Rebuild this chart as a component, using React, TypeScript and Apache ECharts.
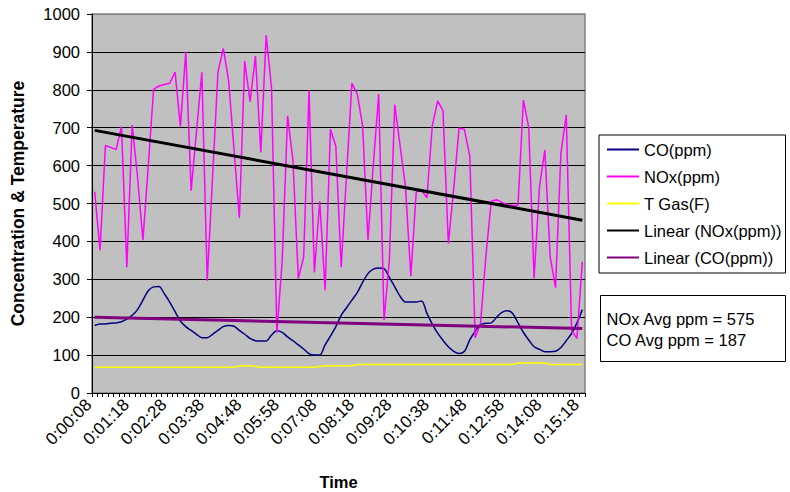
import React, { useEffect, useRef } from "react";
import * as echarts from "echarts";

const categories = [
  "0:00:08","0:00:18","0:00:28","0:00:38","0:00:48","0:00:58",
  "0:01:08","0:01:18","0:01:28","0:01:38","0:01:48","0:01:58",
  "0:02:08","0:02:18","0:02:28","0:02:38","0:02:48","0:02:58",
  "0:03:08","0:03:18","0:03:28","0:03:38","0:03:48","0:03:58",
  "0:04:08","0:04:18","0:04:28","0:04:38","0:04:48","0:04:58",
  "0:05:08","0:05:18","0:05:28","0:05:38","0:05:48","0:05:58",
  "0:06:08","0:06:18","0:06:28","0:06:38","0:06:48","0:06:58",
  "0:07:08","0:07:18","0:07:28","0:07:38","0:07:48","0:07:58",
  "0:08:08","0:08:18","0:08:28","0:08:38","0:08:48","0:08:58",
  "0:09:08","0:09:18","0:09:28","0:09:38","0:09:48","0:09:58",
  "0:10:08","0:10:18","0:10:28","0:10:38","0:10:48","0:10:58",
  "0:11:08","0:11:18","0:11:28","0:11:38","0:11:48","0:11:58",
  "0:12:08","0:12:18","0:12:28","0:12:38","0:12:48","0:12:58",
  "0:13:08","0:13:18","0:13:28","0:13:38","0:13:48","0:13:58",
  "0:14:08","0:14:18","0:14:28","0:14:38","0:14:48","0:14:58",
  "0:15:08","0:15:18",
];

const coPpm = [
  178, 182, 182, 184, 185, 188, 195, 205, 220, 245,
  270, 280, 281, 262, 240, 215, 190, 175, 165, 155,
  146, 146, 155, 165, 175, 178, 176, 165, 155, 144,
  138, 137, 137, 153, 164, 160, 148, 138, 127, 116,
  104, 100, 100, 127, 150, 175, 205, 225, 245, 265,
  292, 315, 327, 330, 328, 305, 280, 255, 240, 240,
  240, 243, 210, 182, 158, 139, 122, 110, 104, 110,
  140, 163, 181, 184, 185, 200, 213, 217, 210, 185,
  160, 140, 122, 115, 109, 109, 110, 120, 138, 157,
  185, 220,
];

const noxPpm = [
  531, 376, 653, 648, 642, 703, 332, 707, 570, 403,
  600, 802, 810, 814, 817, 847, 703, 900, 534, 690,
  846, 296, 570, 846, 909, 824, 643, 462, 876, 769,
  889, 635, 944, 806, 159, 350, 731, 613, 302, 359,
  799, 318, 506, 271, 696, 651, 332, 575, 817, 789,
  705, 404, 603, 789, 192, 354, 761, 652, 543, 308,
  530, 535, 515, 705, 771, 745, 394, 540, 699, 695,
  625, 146, 183, 360, 506, 510, 503, 497, 495, 495,
  773, 701, 302, 543, 641, 359, 278, 632, 734, 164,
  144, 346,
];

const tGasF = [
  68, 68, 68, 68, 68, 68, 68, 68, 68, 68,
  68, 68, 68, 68, 68, 68, 68, 68, 68, 68,
  68, 68, 68, 68, 68, 68, 68, 71, 72, 72,
  70, 68, 68, 68, 68, 68, 68, 68, 68, 68,
  68, 68, 70, 72, 72, 72, 72, 72, 72, 75,
  75, 75, 75, 75, 75, 75, 75, 75, 75, 75,
  75, 75, 75, 75, 75, 75, 75, 75, 75, 75,
  75, 75, 75, 75, 75, 75, 75, 75, 75, 79,
  79, 79, 79, 79, 79, 75, 75, 75, 75, 75,
  75, 75,
];

// Excel linear trend lines: value at first and last category
const noxTrend = [693, 456];
const coTrend = [200, 170];

const seriesNames = [
  "CO(ppm)",
  "NOx(ppm)",
  "T Gas(F)",
  "Linear (NOx(ppm))",
  "Linear (CO(ppm))",
];

const avgLines = ["NOx Avg ppm = 575", "CO Avg ppm = 187"];

const FONT = '"Liberation Sans", Arial, sans-serif';

function trendData(ends: number[]) {
  return [
    [categories[0], ends[0]],
    [categories[categories.length - 1], ends[1]],
  ];
}

export default function App() {
  const ref = useRef<HTMLDivElement>(null);

  useEffect(() => {
    if (!ref.current) return;
    const chart = echarts.init(ref.current, null, { renderer: "svg" });
    const splitColors = [
      "#000", "#000", "#000", "#000", "#000", "#000",
      "#000", "#000", "#000", "#000", "#808080",
    ];
    const option: any = {
      animation: false,
      backgroundColor: "#ffffff",
      textStyle: { fontFamily: FONT, color: "#000" },
      grid: {
        left: 92,
        top: 14,
        right: 205,
        bottom: 99,
        show: true,
        containLabel: false,
        outerBoundsMode: "none",
        backgroundColor: "#C0C0C0",
        borderColor: "#808080",
        borderWidth: 1.5,
      },
      legend: {
        orient: "vertical",
        left: 599,
        top: 135,
        data: seriesNames,
        backgroundColor: "#ffffff",
        borderColor: "#000",
        borderWidth: 1,
        borderRadius: 0,
        padding: [6, 4, 7, 7],
        itemGap: 10,
        itemWidth: 32,
        itemHeight: 3,
        itemStyle: { opacity: 0 },
        textStyle: { fontFamily: FONT, fontSize: 16.5, color: "#000" },
      },
      xAxis: {
        type: "category",
        data: categories,
        boundaryGap: true,
        name: "Time",
        nameLocation: "middle",
        nameGap: 80,
        nameTextStyle: {
          fontFamily: FONT,
          fontSize: 16.5,
          fontWeight: "bold",
          color: "#000",
        },
        axisLine: { lineStyle: { color: "#000", width: 1 } },
        axisTick: {
          show: true,
          interval: 0,
          length: 4,
          lineStyle: { color: "#000" },
        },
        axisLabel: {
          interval: 6,
          rotate: 45,
          margin: 15,
          verticalAlign: "bottom",
          fontFamily: FONT,
          fontSize: 17,
          color: "#000",
        },
        splitLine: { show: false },
      },
      yAxis: {
        type: "value",
        min: 0,
        max: 1000,
        interval: 100,
        name: "Concentration & Temperature",
        nameLocation: "middle",
        nameRotate: 90,
        nameGap: 65,
        nameTextStyle: {
          fontFamily: FONT,
          fontSize: 17.5,
          fontWeight: "bold",
          color: "#000",
        },
        axisLine: { show: true, lineStyle: { color: "#000", width: 1 } },
        axisTick: { show: true, length: 5, lineStyle: { color: "#000" } },
        axisLabel: {
          margin: 12,
          fontFamily: FONT,
          fontSize: 16.5,
          color: "#000",
          formatter: (v: number) => String(v),
        },
        splitLine: {
          show: true,
          lineStyle: { color: splitColors, width: 1 },
        },
      },
      series: [
        {
          name: seriesNames[0],
          type: "line",
          data: coPpm,
          symbol: "none",
          smooth: 0.3,
          z: 3,
          lineStyle: { color: "#000080", width: 1.5 },
          itemStyle: { color: "#000080" },
        },
        {
          name: seriesNames[1],
          type: "line",
          data: noxPpm,
          symbol: "none",
          z: 4,
          lineStyle: { color: "#FF00FF", width: 1.5 },
          itemStyle: { color: "#FF00FF" },
        },
        {
          name: seriesNames[2],
          type: "line",
          data: tGasF,
          symbol: "none",
          z: 3,
          lineStyle: { color: "#FFFF00", width: 1.5 },
          itemStyle: { color: "#FFFF00" },
        },
        {
          name: seriesNames[3],
          type: "line",
          data: trendData(noxTrend),
          symbol: "none",
          z: 5,
          lineStyle: { color: "#000000", width: 3 },
          itemStyle: { color: "#000000" },
        },
        {
          name: seriesNames[4],
          type: "line",
          data: trendData(coTrend),
          symbol: "none",
          z: 5,
          lineStyle: { color: "#800080", width: 3 },
          itemStyle: { color: "#800080" },
        },
      ],
      graphic: [
        {
          type: "group",
          left: 600,
          top: 295,
          children: [
            {
              type: "rect",
              shape: { x: 0, y: 0, width: 185, height: 66 },
              style: { fill: "#ffffff", stroke: "#000", lineWidth: 1 },
            },
            {
              type: "text",
              x: 6,
              y: 23,
              style: {
                text: avgLines[0],
                fontFamily: FONT,
                fontSize: 16.5,
                fill: "#000",
                verticalAlign: "middle",
              },
            },
            {
              type: "text",
              x: 6,
              y: 44,
              style: {
                text: avgLines[1],
                fontFamily: FONT,
                fontSize: 16.5,
                fill: "#000",
                verticalAlign: "middle",
              },
            },
          ],
        },
      ],
    };
    chart.setOption(option);
    return () => chart.dispose();
  }, []);

  return (
    <div
      ref={ref}
      style={{
        position: "absolute",
        left: 0,
        top: 0,
        width: 790,
        height: 492,
        background: "#fff",
      }}
    />
  );
}
